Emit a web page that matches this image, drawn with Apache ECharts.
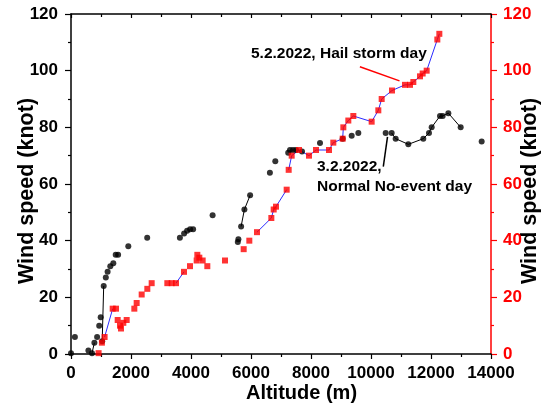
<!DOCTYPE html>
<html>
<head>
<meta charset="utf-8">
<script src="https://cdn.jsdelivr.net/npm/echarts@6/dist/echarts.min.js"></script>
<style>
  html, body { margin: 0; padding: 0; background: #ffffff; }
  #chart { width: 544px; height: 403px; }
</style>
</head>
<body>
<div id="chart"></div>
<script>
// Altitude (m) ticks and wind speed (knot) ticks
const altitudeTicks = [0, 2000, 4000, 6000, 8000, 10000, 12000, 14000];
const speedTicks = [0, 20, 40, 60, 80, 100, 120];

// 3.2.2022 — normal, no-event day. join = 1 links the point to the previous one.
const normalAlt = [0, 130, 580, 700, 780, 870, 940, 990, 1040, 1090, 1160, 1220, 1310, 1410, 1490, 1570,
  1910, 2540, 3630, 3770, 3870, 3970, 4070, 4720, 5560, 5580, 5670, 5780, 5970, 6630, 6810,
  7240, 7300, 7400, 7500, 7700, 8300, 9056, 9356, 9578, 10489, 10689, 10822, 11244, 11744,
  11933, 12022, 12300, 12389, 12578, 12989, 13689];
const normalSpd = [0.3, 6, 1.2, 0.3, 4, 6, 10, 13, 4.5, 24, 27, 29, 31, 32, 35, 35,
  38, 41, 41, 42.5, 43.5, 44, 44, 49, 39.5, 40.5, 45, 51, 56, 64, 68,
  71, 72, 72, 72, 71.5, 74.5, 76, 77, 78, 78, 78, 76, 74, 76,
  78, 80, 84, 84, 85, 80, 75];
const normalJoin = [0, 0, 0, 0, 1, 0, 0, 0, 0, 1, 0, 0, 0, 0, 0, 0,
  0, 0, 0, 0, 0, 0, 0, 0, 0, 0, 0, 1, 1, 0, 0,
  0, 0, 0, 0, 0, 0, 0, 0, 0, 0, 0, 1, 1, 1,
  1, 1, 1, 1, 1, 1, 0];

// 5.2.2022 — hail storm day
const hailAlt = [920, 1030, 1120, 1390, 1500, 1556, 1633, 1667, 1744, 1856, 2111, 2189, 2356, 2544, 2689,
  3211, 3356, 3500, 3767, 3967, 4189, 4211, 4278, 4389, 4544, 5133, 5756, 5944, 6200,
  6678, 6756, 6833, 7189, 7256, 7356, 7600, 7933, 8167, 8600, 8744, 9056, 9078, 9244, 9411,
  10022, 10244, 10356, 10700, 11133, 11300, 11411, 11633, 11722, 11856, 12211, 12278];
const hailSpd = [0.3, 4, 6, 16, 16, 12, 10, 9, 11, 12, 16, 18, 21, 23, 25,
  25, 25, 25, 29, 31, 33, 35, 34, 33, 31, 33, 37, 40, 43,
  48, 51, 52, 58, 65, 70, 72, 70, 72, 72, 74.6, 76, 80, 82.4, 84,
  82, 86, 90, 93, 95, 95, 96, 98, 99, 100, 111, 113];
const hailJoin = [0, 0, 0, 1, 0, 0, 0, 0, 0, 0, 0, 0, 0, 0, 0,
  0, 0, 0, 1, 0, 0, 0, 0, 0, 0, 0, 0, 0, 0,
  1, 1, 1, 1, 0, 1, 1, 1, 1, 1, 1, 1, 1, 1, 1,
  1, 1, 1, 1, 1, 1, 1, 1, 1, 1, 1, 1];

// Arrow annotations, in data coordinates [altitude, speed]
const hailArrow = [[9630, 101.4], [10950, 96.4]];
const normalArrow = [[10410, 66.1], [10550, 76.6]];

const FONT = '"Liberation Sans", Arial, sans-serif';

function points(alt, spd) {
  return alt.map((a, i) => [a, spd[i]]);
}

// Split a profile into runs of joined points, one line series per run.
function runs(alt, spd, join) {
  const out = [];
  let cur = [];
  alt.forEach((a, i) => {
    if (!join[i] && cur.length) { out.push(cur); cur = []; }
    cur.push([a, spd[i]]);
  });
  if (cur.length) out.push(cur);
  return out.filter(r => r.length > 1);
}

function lineSeries(runList, color, yIndex) {
  return runList.map(r => ({
    type: 'line', data: r, xAxisIndex: 0, yAxisIndex: yIndex,
    showSymbol: false, symbol: 'none', silent: true, z: 2,
    lineStyle: { color: color, width: 1 }
  }));
}

const plain = v => String(v);

function axisLine(color) {
  return { onZero: false, lineStyle: { color: color, width: 1.5 } };
}

const axisCommon = {
  type: 'value', splitLine: { show: false }, nameMoveOverlap: false
};

// Vertical titles sit a little below the middle of the plot
const speedTitleStyle = { color: '#000', fontFamily: FONT, fontWeight: 'bold', fontSize: 21.5, padding: [0, 14, 0, 0] };

const chart = echarts.init(document.getElementById('chart'), null, { renderer: 'canvas' });

const option = {
  animation: false,
  backgroundColor: '#ffffff',
  grid: { left: 71, right: 53, top: 14, bottom: 49, containLabel: false, outerBoundsMode: 'none' },
  xAxis: [
    Object.assign({}, axisCommon, {
      position: 'bottom', min: altitudeTicks[0], max: altitudeTicks[altitudeTicks.length - 1],
      interval: altitudeTicks[1] - altitudeTicks[0],
      axisLine: axisLine('#000'),
      axisTick: { inside: false, length: 5, lineStyle: { color: '#000', width: 1.2 } },
      minorTick: { show: true, splitNumber: 2, length: 3, lineStyle: { color: '#000', width: 1.2 } },
      axisLabel: { color: '#000', fontFamily: FONT, fontWeight: 'bold', fontSize: 17, margin: 11, formatter: plain },
      name: 'Altitude (m)', nameLocation: 'middle', nameGap: 29,
      nameTextStyle: { color: '#000', fontFamily: FONT, fontWeight: 'bold', fontSize: 20, padding: [0, 0, 0, 41] }
    }),
    Object.assign({}, axisCommon, {
      position: 'top', min: altitudeTicks[0], max: altitudeTicks[altitudeTicks.length - 1],
      interval: altitudeTicks[1] - altitudeTicks[0],
      axisLine: axisLine('#000'),
      axisTick: { inside: true, length: 4, lineStyle: { color: '#000', width: 1.2 } },
      minorTick: { show: true, splitNumber: 2, length: 3, lineStyle: { color: '#000', width: 1.2 } },
      axisLabel: { show: false }
    })
  ],
  yAxis: [
    Object.assign({}, axisCommon, {
      position: 'left', min: speedTicks[0], max: speedTicks[speedTicks.length - 1],
      interval: speedTicks[1] - speedTicks[0],
      axisLine: axisLine('#000'),
      axisTick: { inside: false, length: 6, lineStyle: { color: '#000', width: 1.2 } },
      minorTick: { show: true, splitNumber: 2, length: 3, lineStyle: { color: '#000', width: 1.2 } },
      axisLabel: { color: '#000', fontFamily: FONT, fontWeight: 'bold', fontSize: 17, margin: 13, formatter: plain },
      name: 'Wind speed (knot)', nameLocation: 'middle', nameGap: 33,
      nameTextStyle: speedTitleStyle
    }),
    Object.assign({}, axisCommon, {
      position: 'right', min: speedTicks[0], max: speedTicks[speedTicks.length - 1],
      interval: speedTicks[1] - speedTicks[0],
      axisLine: axisLine('#ff0000'),
      axisTick: { inside: false, length: 6, lineStyle: { color: '#ff0000', width: 1.2 } },
      minorTick: { show: true, splitNumber: 2, length: 3, lineStyle: { color: '#ff0000', width: 1.2 } },
      axisLabel: { color: '#ff0000', fontFamily: FONT, fontWeight: 'bold', fontSize: 17, margin: 12, formatter: plain },
      name: 'Wind speed (knot)', nameLocation: 'middle', nameGap: 28,
      nameTextStyle: speedTitleStyle
    })
  ],
  series: [].concat(
    lineSeries(runs(normalAlt, normalSpd, normalJoin), '#000000', 0),
    lineSeries(runs(hailAlt, hailSpd, hailJoin), '#2b2bff', 1),
    [
      {
        name: '3.2.2022', type: 'scatter', xAxisIndex: 0, yAxisIndex: 0,
        data: points(normalAlt, normalSpd), symbol: 'circle', symbolSize: 6, z: 3,
        itemStyle: { color: '#000000' },
        markLine: {
          silent: true, symbol: ['none', 'triangle'], symbolSize: [0, 9],
          label: { show: false },
          lineStyle: { color: '#000000', width: 1.5, type: 'solid' },
          data: [[{ coord: normalArrow[0] }, { coord: normalArrow[1] }]]
        }
      },
      {
        name: '5.2.2022', type: 'scatter', xAxisIndex: 0, yAxisIndex: 1,
        data: points(hailAlt, hailSpd), symbol: 'rect', symbolSize: 6, z: 4,
        itemStyle: { color: '#ff0000' },
        markLine: {
          silent: true, symbol: ['none', 'triangle'], symbolSize: [0, 9],
          label: { show: false },
          lineStyle: { color: '#ff0000', width: 1.5, type: 'solid' },
          data: [[{ coord: hailArrow[0] }, { coord: hailArrow[1] }]]
        }
      }
    ]
  ),
  graphic: [
    { type: 'text', left: 251, top: 46, style: { text: '5.2.2022, Hail storm day', fill: '#000', font: 'bold 15.5px ' + FONT } },
    { type: 'text', left: 317, top: 159, style: { text: '3.2.2022,', fill: '#000', font: 'bold 15.5px ' + FONT } },
    { type: 'text', left: 317, top: 179, style: { text: 'Normal No-event day', fill: '#000', font: 'bold 15.5px ' + FONT } }
  ]
};

chart.setOption(option);
</script>
</body>
</html>
